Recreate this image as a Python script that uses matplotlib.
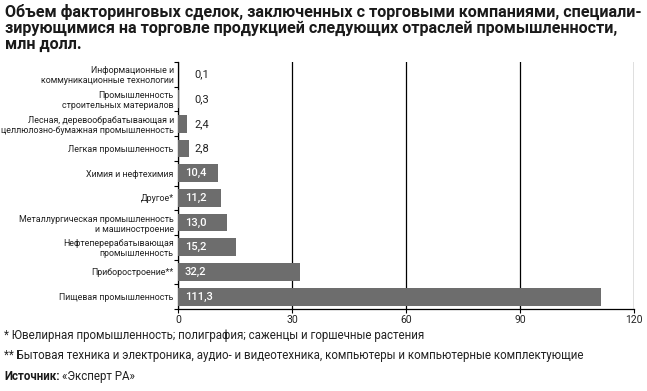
import matplotlib
matplotlib.use("Agg")
import matplotlib.pyplot as plt
import numpy as np

plt.rcParams['font.family'] = ['Roboto', 'DejaVu Sans']

# data, top to bottom as in the chart
categories = [
    "Информационные и\nкоммуникационные технологии",
    "Промышленность\nстроительных материалов",
    "Лесная, деревообрабатывающая и\nцеллюлозно-бумажная промышленность",
    "Легкая промышленность",
    "Химия и нефтехимия",
    "Другое*",
    "Металлургическая промышленность\nи машиностроение",
    "Нефтеперерабатывающая\nпромышленность",
    "Приборостроение**",
    "Пищевая промышленность",
]
values = [0.1, 0.3, 2.4, 2.8, 10.4, 11.2, 13.0, 15.2, 32.2, 111.3]
xticks = [0, 30, 60, 90, 120]

title = ("Объем факторинговых сделок, заключенных с торговыми компаниями, специали-\n"
         "зирующимися на торговле продукцией следующих отраслей промышленности,\n"
         "млн долл.")
note1 = "* Ювелирная промышленность; полиграфия; саженцы и горшечные растения"
note2 = "** Бытовая техника и электроника, аудио- и видеотехника, компьютеры и компьютерные комплектующие"

bar_color = "#6d6d6d"

fig = plt.figure(figsize=(6.47, 3.91), dpi=100)
ax = fig.add_axes([0.2751, 0.2097, 0.98 - 0.2751, 0.8414 - 0.2097])

y = np.arange(len(categories))
ax.barh(y, values, height=0.72, color=bar_color, zorder=3)
ax.set_ylim(len(categories) - 0.5, -0.5)
ax.set_xlim(0, 120)

# value labels
for yi, v in zip(y, values):
    txt = ("%.1f" % v).replace(".", ",")
    if v < 5:
        ax.annotate(txt, (0, yi), xytext=(12, 0), textcoords="offset points",
                    ha="left", va="center", fontsize=8, color="#222222")
    else:
        ax.annotate(txt, (0, yi), xytext=(5, 0), textcoords="offset points",
                    ha="left", va="center", fontsize=8, color="white",
                    fontweight="medium", zorder=4)

ax.set_yticks(y)
ax.set_yticklabels(categories, fontsize=6.4, color="#222222", linespacing=1.15)
ax.tick_params(axis="y", length=0, pad=3)
ax.set_yticks(np.arange(-0.5, len(categories)), minor=True)
ax.tick_params(axis="y", which="minor", length=3, width=0.8, color="black")

ax.set_xticks(xticks)
ax.set_xticklabels([str(t) for t in xticks], fontsize=7.5, color="#222222")
ax.tick_params(axis="x", length=3, width=0.8, pad=1)

ax.grid(axis="x", color="black", linewidth=0.9, zorder=1)
for s in ["top", "right"]:
    ax.spines[s].set_visible(False)
for s in ["left", "bottom"]:
    ax.spines[s].set_linewidth(0.9)

fig.text(0.008, 0.99, title, ha="left", va="top", fontsize=11.6,
         fontweight="bold", color="#1a1a1a", linespacing=1.05)

fig.text(0.006, 0.141, note1, ha="left", va="center", fontsize=8.3, color="#222222")
fig.text(0.006, 0.090, note2, ha="left", va="center", fontsize=8.3, color="#222222")
src = fig.text(0.006, 0.038, "Источник:", ha="left", va="center", fontsize=8.3,
               fontweight="bold", color="#1a1a1a")
fig.canvas.draw()
bb = src.get_window_extent(renderer=fig.canvas.get_renderer())
fig.text(bb.x1 / fig.bbox.width + 0.004, 0.038, "«Эксперт РА»", ha="left",
         va="center", fontsize=8.3, color="#222222")

fig.savefig("out.png", dpi=100)
